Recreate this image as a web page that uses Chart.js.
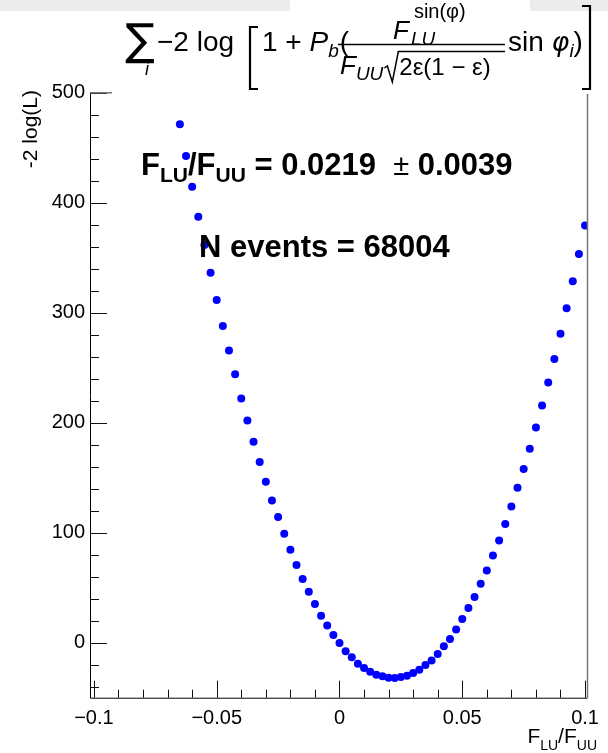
<!DOCTYPE html>
<html>
<head>
<meta charset="utf-8">
<script src="https://cdn.jsdelivr.net/npm/chart.js@4.4.1/dist/chart.umd.min.js"></script>
<style>
  html, body { margin: 0; padding: 0; background: #fff; }
  #wrap { width: 608px; height: 753px; position: relative; }
</style>
</head>
<body>
<div id="wrap"><canvas id="nllChart" width="608" height="753"></canvas></div>
<script>
(function(){
  'use strict';

  // scan points (F_LU/F_UU, -2 log L)
  const scanX = [
    -0.065, -0.0625, -0.06, -0.0575, -0.055, -0.0525, -0.05, -0.0475, -0.045, -0.0425,
    -0.04, -0.0375, -0.035, -0.0325, -0.03, -0.0275, -0.025, -0.0225, -0.02, -0.0175,
    -0.015, -0.0125, -0.01, -0.0075, -0.005, -0.0025, 0, 0.0025, 0.005, 0.0075,
    0.01, 0.0125, 0.015, 0.0175, 0.02, 0.0225, 0.025, 0.0275, 0.03, 0.0325,
    0.035, 0.0375, 0.04, 0.0425, 0.045, 0.0475, 0.05, 0.0525, 0.055, 0.0575,
    0.06, 0.0625, 0.065, 0.0675, 0.07, 0.0725, 0.075, 0.0775, 0.08, 0.0825,
    0.085, 0.0875, 0.09, 0.0925, 0.095, 0.0975, 0.1
  ];
  const scanY = [
    471.3, 442.5, 414.6, 387.3, 361.6, 336.4, 311.6, 288.0, 265.6, 244.1,
    222.0, 202.0, 182.6, 164.2, 146.3, 129.3, 114.2, 99.0, 84.5, 70.6,
    57.9, 46.3, 35.2, 24.5, 15.7, 7.0, -0.3, -7.7, -13.2, -19.1,
    -23.0, -26.3, -29.1, -30.6, -31.8, -32.1, -31.2, -30.0, -27.5, -24.5,
    -20.3, -16.1, -10.3, -3.3, 3.4, 12.1, 21.5, 31.5, 41.5, 53.6,
    65.7, 79.3, 93.0, 107.8, 123.8, 140.8, 157.8, 176.3, 195.6, 215.6,
    236.5, 258.0, 280.8, 304.1, 328.6, 353.4, 379.2
  ];

  const xTicks = [-0.1, -0.05, 0, 0.05, 0.1];
  const yTicks = [0, 100, 200, 300, 400, 500];
  const xMinorStep = 0.01;
  const yMinorStep = 20;

  const fitText = '0.0219';
  const fitErr = '0.0039';
  const nEvents = '68004';

  const points = scanX.map((x, i) => ({ x: x, y: scanY[i] }));

  function fmtTick(v) {
    if (Math.abs(v) < 1e-9) return '0';
    const s = String(Math.round(v * 1000) / 1000);
    return s.replace('-', '\u2212');
  }

  function txt(ctx, s, x, y, font, align) {
    ctx.font = font;
    ctx.textAlign = align || 'left';
    ctx.fillText(s, x, y);
    return ctx.measureText(s).width;
  }

  // frame, inner ticks, title and annotations (ROOT style)
  const rootDecor = {
    id: 'rootDecor',
    afterDraw(chart) {
      const ctx = chart.ctx;
      const a = chart.chartArea;
      const sx = chart.scales.x, sy = chart.scales.y;
      ctx.save();

      // ticks inside frame
      ctx.strokeStyle = '#111';
      ctx.lineWidth = 1;
      ctx.beginPath();
      for (let v = -0.1; v <= 0.1001; v += xMinorStep) {
        const px = Math.round(sx.getPixelForValue(v)) + 0.5;
        const major = xTicks.some(t => Math.abs(t - v) < 1e-6);
        ctx.moveTo(px, a.bottom);
        ctx.lineTo(px, a.bottom - (major ? 17 : 8));
      }
      for (let v = -40; v <= 500; v += yMinorStep) {
        const py = Math.round(sy.getPixelForValue(v)) + 0.5;
        const major = v % 100 === 0;
        ctx.moveTo(a.left, py);
        ctx.lineTo(a.left + (major ? 17 : 9), py);
      }
      ctx.stroke();

      // frame
      ctx.strokeStyle = '#000';
      ctx.beginPath();
      ctx.moveTo(a.left + 0.5, a.top);
      ctx.lineTo(a.left + 0.5, a.bottom + 0.5);
      ctx.lineTo(a.right, a.bottom + 0.5);
      ctx.stroke();
      ctx.strokeStyle = '#777';
      ctx.lineWidth = 1.5;
      ctx.beginPath();
      ctx.moveTo(a.left, a.top);
      ctx.lineTo(a.right, a.top);
      ctx.lineTo(a.right, a.bottom);
      ctx.stroke();

      // title pave
      ctx.fillStyle = '#fff';
      ctx.fillRect(112, 0, 481, 94);
      ctx.fillStyle = '#ececec';
      ctx.fillRect(0, 0, 290, 11);
      ctx.fillRect(530, 0, 78, 11);

      // title formula
      ctx.fillStyle = '#000';
      ctx.textBaseline = 'alphabetic';
      const base = 51;
      txt(ctx, '\u2211', 125, 55, '44px DejaVu Sans');
      txt(ctx, 'i', 145, 75, 'italic 18px Liberation Sans');
      txt(ctx, '\u22122 log', 157, base, '28px Liberation Sans');

      ctx.strokeStyle = '#000';
      ctx.lineWidth = 2.2;
      ctx.beginPath();
      ctx.moveTo(258, 27); ctx.lineTo(250, 27); ctx.lineTo(250, 89); ctx.lineTo(258, 89);
      ctx.moveTo(582, 6); ctx.lineTo(590, 6); ctx.lineTo(590, 89); ctx.lineTo(582, 89);
      ctx.stroke();

      let x = 262;
      x += txt(ctx, '1 + ', x, base, '28px Liberation Sans');
      x += txt(ctx, 'P', x, base, 'italic 28px Liberation Sans');
      x += txt(ctx, 'b', x, base + 6, 'italic 19px Liberation Sans');
      txt(ctx, '(', x + 1, base, '28px Liberation Sans');

      // fraction
      ctx.lineWidth = 1.5;
      ctx.beginPath();
      ctx.moveTo(338, 44.5); ctx.lineTo(505, 44.5);
      ctx.stroke();
      let nx = 393;
      nx += txt(ctx, 'F', nx, 39, 'italic 26px Liberation Sans');
      txt(ctx, 'LU', nx + 2, 45, 'italic 19px Liberation Sans');
      txt(ctx, 'sin(\u03C6)', nx + 5, 18, '20px Liberation Sans');

      let dx = 340;
      dx += txt(ctx, 'F', dx, 74, 'italic 26px Liberation Sans');
      dx += txt(ctx, 'UU', dx, 80, 'italic 19px Liberation Sans');
      ctx.beginPath();
      ctx.moveTo(dx + 1, 68); ctx.lineTo(dx + 4, 66); ctx.lineTo(dx + 9, 82);
      ctx.lineTo(dx + 15, 51.5); ctx.lineTo(505, 51.5);
      ctx.stroke();
      txt(ctx, '2\u03B5(1 \u2212 \u03B5)', dx + 16, 75, '24px Liberation Sans');

      let rx = 508;
      rx += txt(ctx, 'sin ', rx, base, '28px Liberation Sans');
      rx += txt(ctx, '\u03C6', rx, base, 'italic 27px DejaVu Sans');
      rx += txt(ctx, 'i', rx, base + 6, 'italic 19px Liberation Sans');
      txt(ctx, ')', rx, base, '28px Liberation Sans');

      // fit result
      const big = 'bold 31px Liberation Sans';
      const sub = 'bold 21px Liberation Sans';
      let fx = 141;
      fx += txt(ctx, 'F', fx, 175, big);
      fx += txt(ctx, 'LU', fx, 182, sub);
      fx += txt(ctx, '/F', fx, 175, big);
      fx += txt(ctx, 'UU', fx, 182, sub);
      fx += txt(ctx, ' = ' + fitText + '  ', fx, 175, big);
      fx += txt(ctx, '\u00B1', fx, 175, '29px Liberation Sans');
      txt(ctx, ' ' + fitErr, fx, 175, big);

      txt(ctx, 'N events = ' + nEvents, 199, 257, big);

      // axis titles
      let tx = 597;
      const w1 = (ctx.font = '14px Liberation Sans', ctx.measureText('UU').width);
      tx -= w1;
      txt(ctx, 'UU', tx, 750, '14px Liberation Sans');
      const w2 = (ctx.font = '21px Liberation Sans', ctx.measureText('/F').width);
      tx -= w2;
      txt(ctx, '/F', tx, 743, '21px Liberation Sans');
      const w3 = (ctx.font = '14px Liberation Sans', ctx.measureText('LU').width);
      tx -= w3;
      txt(ctx, 'LU', tx, 750, '14px Liberation Sans');
      const w4 = (ctx.font = '21px Liberation Sans', ctx.measureText('F').width);
      tx -= w4;
      txt(ctx, 'F', tx, 743, '21px Liberation Sans');

      ctx.translate(37, 90);
      ctx.rotate(-Math.PI / 2);
      txt(ctx, '-2 log(L)', 0, 0, '21px Liberation Sans', 'right');

      ctx.restore();
    }
  };

  function initChart() {
    if (typeof Chart === 'undefined') {
      console.warn('Chart.js no cargado');
      return;
    }
    const el = document.getElementById('nllChart');
    if (!el) return;

    const config = {
      type: 'scatter',
      data: {
        datasets: [{
          data: points,
          backgroundColor: '#0000ff',
          borderColor: '#0000ff',
          borderWidth: 0,
          pointRadius: 4,
          pointHoverRadius: 4
        }]
      },
      options: {
        responsive: false,
        animation: false,
        devicePixelRatio: 1,
        layout: { padding: { top: 92.7, right: 10.3, left: 0, bottom: 0 } },
        plugins: { legend: { display: false }, tooltip: { enabled: false } },
        scales: {
          x: {
            type: 'linear',
            min: -0.1016,
            max: 0.101,
            grid: { display: false, drawTicks: false },
            border: { display: false },
            afterBuildTicks(scale) { scale.ticks = xTicks.map(v => ({ value: v })); },
            afterFit(scale) { scale.height = 753 - 697.7; },
            ticks: {
              color: '#000',
              font: { family: 'Liberation Sans', size: 20 },
              padding: 9,
              maxRotation: 0,
              autoSkip: false,
              callback: v => fmtTick(v)
            }
          },
          y: {
            type: 'linear',
            min: -50,
            max: 500,
            grid: { display: false, drawTicks: false },
            border: { display: false },
            afterBuildTicks(scale) { scale.ticks = yTicks.map(v => ({ value: v })); },
            afterFit(scale) { scale.width = 90; },
            ticks: {
              color: '#000',
              font: { family: 'Liberation Sans', size: 20 },
              padding: 5,
              autoSkip: false,
              callback: v => fmtTick(v)
            }
          }
        }
      },
      plugins: [rootDecor]
    };

    el.__chartInstance = new Chart(el.getContext('2d'), config);
  }

  if (document.readyState === 'loading') {
    document.addEventListener('DOMContentLoaded', initChart);
  } else {
    initChart();
  }
})();
</script>
</body>
</html>
